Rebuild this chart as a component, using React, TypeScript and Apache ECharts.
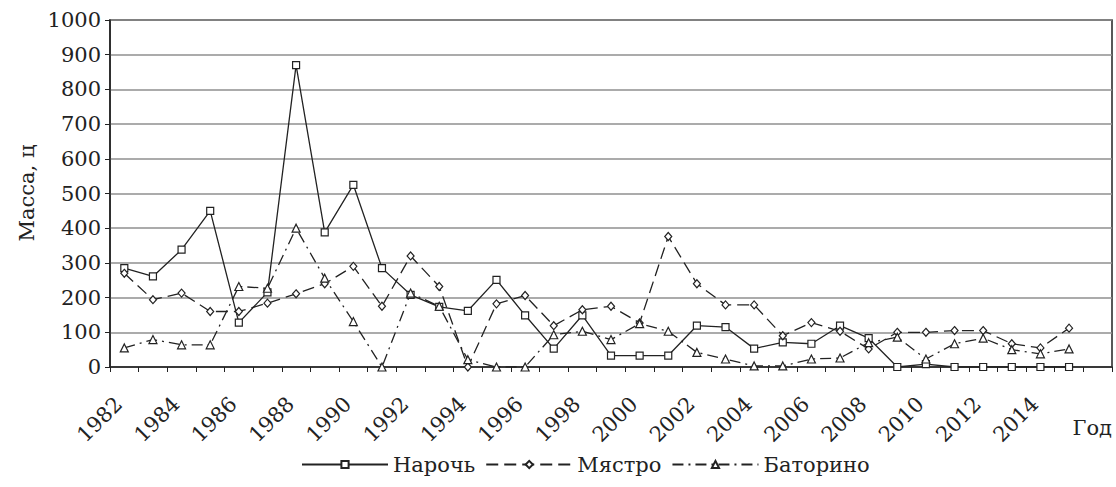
import React, { useEffect, useRef } from "react";
import * as echarts from "echarts";

const years: string[] = [
  "1982","1983","1984","1985","1986","1987","1988","1989","1990","1991",
  "1992","1993","1994","1995","1996","1997","1998","1999","2000","2001",
  "2002","2003","2004","2005","2006","2007","2008","2009","2010","2011",
  "2012","2013","2014","2015","2016",
];

const naroch: number[] = [
  285, 261, 338, 450, 128, 215, 870, 388, 525, 285,
  208, 173, 162, 251, 149, 53, 149, 33, 33, 33,
  119, 115, 53, 71, 67, 119, 83, 0, 8, 0,
  0, 0, 0, 0,
];

const myastro: number[] = [
  270, 194, 213, 160, 160, 184, 211, 240, 290, 175,
  320, 232, 0, 182, 206, 119, 165, 175, 127, 376,
  240, 179, 179, 90, 128, 103, 52, 100, 100, 105,
  105, 67, 55, 112,
];

const batorino: number[] = [
  55, 79, 64, 64, 232, 227, 400, 256, 131, 0,
  213, 175, 21, 0, 0, 93, 103, 79, 125, 103,
  42, 23, 3, 3, 23, 26, 70, 86, 23, 67,
  83, 50, 38, 52,
];

const seriesNames: string[] = ["Нарочь", "Мястро", "Баторино"];
const yAxisName = "Масса, ц";
const xAxisName = "Год";

const FONT = "DejaVu Serif";
const FS = 21;
const INK = "#222";

export default function App() {
  const ref = useRef<HTMLDivElement>(null);

  useEffect(() => {
    if (!ref.current) return;
    const chart = echarts.init(ref.current, undefined, { renderer: "svg" });

    const mk = (
      name: string,
      data: number[],
      symbol: string,
      symbolSize: number | number[],
      type: any
    ) => ({
      name,
      type: "line",
      data,
      symbol,
      symbolSize,
      showAllSymbol: true,
      lineStyle: { color: INK, width: 1.3, type },
      itemStyle: { color: "#fff", borderColor: INK, borderWidth: 1.2 },
      emphasis: { disabled: true },
    });

    chart.setOption({
      animation: false,
      backgroundColor: "#fff",
      textStyle: { fontFamily: FONT },
      grid: {
        left: 110,
        right: 4,
        top: 20,
        bottom: 120,
        show: true,
        borderColor: INK,
        borderWidth: 1.5,
        backgroundColor: "transparent",
      },
      xAxis: {
        type: "category",
        data: years,
        boundaryGap: true,
        axisLine: { lineStyle: { color: INK, width: 1.5 } },
        axisTick: { show: true, interval: 0, length: 5, lineStyle: { color: INK } },
        axisLabel: {
          interval: 0,
          rotate: 45,
          margin: 28,
          padding: [0, 8, 0, 0],
          fontFamily: FONT,
          fontSize: FS,
          color: INK,
          formatter: (v: string, i: number) =>
            i % 2 === 0 && v !== "2016" ? v : "",
        },
        splitLine: { show: false },
      },
      yAxis: {
        type: "value",
        min: 0,
        max: 1000,
        interval: 100,
        axisLine: { show: true, lineStyle: { color: INK, width: 1.5 } },
        axisTick: { show: true, length: 5, lineStyle: { color: INK } },
        axisLabel: {
          margin: 9,
          fontFamily: FONT,
          fontSize: FS,
          color: INK,
          formatter: (v: number) => String(v),
        },
        splitLine: { show: true, lineStyle: { color: "#8f8f8f", width: 1.5 } },
      },
      legend: {
        data: seriesNames,
        bottom: 7,
        left: 296,
        itemWidth: 86,
        itemHeight: 9,
        itemGap: 10,
        textStyle: { fontFamily: FONT, fontSize: FS, color: INK },
      },
      graphic: [
        {
          type: "text",
          x: 27,
          y: 193,
          rotation: Math.PI / 2,
          style: {
            text: yAxisName,
            fontFamily: FONT,
            fontSize: FS,
            fill: INK,
            align: "center",
            verticalAlign: "middle",
          },
        },
        {
          type: "text",
          x: 1112,
          y: 428,
          style: {
            text: xAxisName,
            fontFamily: FONT,
            fontSize: FS,
            fill: INK,
            align: "right",
            verticalAlign: "middle",
          },
        },
      ],
      series: [
        mk(seriesNames[0], naroch, "rect", 7, "solid"),
        mk(seriesNames[1], myastro, "diamond", [7, 8], [12, 6]),
        mk(seriesNames[2], batorino, "triangle", 8, [11, 5, 2, 5]),
      ],
    });

    return () => chart.dispose();
  }, []);

  return (
    <div
      ref={ref}
      style={{ position: "absolute", left: 0, top: 0, width: 1116, height: 487 }}
    />
  );
}
